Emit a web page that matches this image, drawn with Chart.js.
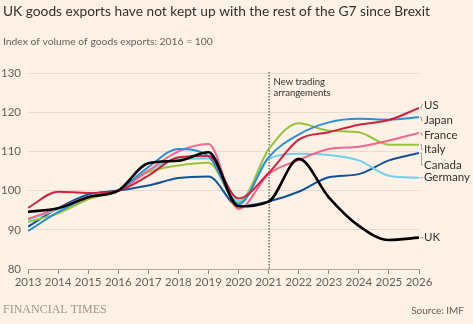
<!DOCTYPE html>
<html>
<head>
<meta charset="utf-8">
<script src="https://cdn.jsdelivr.net/npm/chart.js@4.4.1/dist/chart.umd.min.js"></script>
<style>
  html, body { margin: 0; padding: 0; background: #fff1e5; }
  #wrap { width: 473px; height: 324px; position: relative; }
</style>
</head>
<body>
<div id="wrap"><canvas id="chart"></canvas></div>
<script>
// Data (index, 2016 = 100)
const years = [2013, 2014, 2015, 2016, 2017, 2018, 2019, 2020, 2021, 2022, 2023, 2024, 2025, 2026];
const uk      = [94.6, 95.5, 98.3, 100, 107.0, 107.6, 109.8, 96.0, 97.2, 108.1, 98.3, 91.0, 87.4, 88.0];
const us      = [95.6, 99.7, 99.4, 100, 103.8, 108.5, 108.8, 98.0, 104.5, 113.0, 114.9, 116.8, 118.0, 121.1];
const japan   = [89.7, 94.5, 98.3, 100, 106.0, 110.6, 108.8, 96.5, 108.5, 114.3, 117.4, 118.3, 118.1, 118.7];
const france  = [92.8, 95.5, 98.4, 100, 105.1, 110.0, 111.9, 95.3, 104.2, 107.8, 110.6, 111.2, 112.8, 114.7];
const italy   = [92.0, 94.2, 97.8, 100, 104.7, 106.4, 107.1, 96.8, 110.5, 117.2, 115.3, 114.9, 111.7, 111.7];
const canada  = [90.8, 95.5, 99.0, 100, 101.3, 103.2, 103.6, 96.0, 97.2, 99.7, 103.4, 104.2, 107.7, 109.6];
const germany = [92.5, 95.3, 98.5, 100, 105.0, 108.1, 108.2, 97.3, 108.1, 109.4, 109.1, 107.7, 103.8, 103.3];
const yTicks = [80, 90, 100, 110, 120, 130];

const FONT = 'Lato';

const series = [
  { label: 'UK', data: uk, color: '#000000', width: 2.6, nudge: 0 },
  { label: 'US', data: us, color: '#d0213f', width: 2, nudge: -3 },
  { label: 'Japan', data: japan, color: '#2a8fd6', width: 2, nudge: 3 },
  { label: 'France', data: france, color: '#f2668f', width: 2, nudge: 2 },
  { label: 'Italy', data: italy, color: '#96c43c', width: 2, nudge: 5 },
  { label: 'Germany', data: germany, color: '#6fd2e8', width: 2, nudge: 0 },
  { label: 'Canada', data: canada, color: '#0f5499', width: 2, nudge: 12 }
];

function toPoints(values) {
  return values.map((v, i) => ({ x: years[i], y: v }));
}

// draw text squeezed/stretched to a given width
function fitText(ctx, text, x, y, size, width) {
  ctx.font = size + 'px ' + FONT;
  const w = ctx.measureText(text).width;
  ctx.font = (size * width / w).toFixed(2) + 'px ' + FONT;
  ctx.fillText(text, x, y);
}

// Title, footer, brexit marker and end labels
const decorations = {
  id: 'decorations',
  beforeDatasetsDraw(chart) {
    const ctx = chart.ctx;
    const x = chart.scales.x.getPixelForValue(2021);
    const area = chart.chartArea;
    ctx.save();
    ctx.strokeStyle = '#33302e';
    ctx.lineWidth = 1;
    ctx.setLineDash([1.5, 1.5]);
    ctx.beginPath();
    ctx.moveTo(x + 0.5, area.top - 1);
    ctx.lineTo(x + 0.5, area.bottom);
    ctx.stroke();
    ctx.restore();
  },
  afterDraw(chart) {
    const ctx = chart.ctx;
    const area = chart.chartArea;
    const xs = chart.scales.x;
    const ys = chart.scales.y;
    ctx.save();
    ctx.textBaseline = 'middle';

    ctx.fillStyle = '#33302e';
    fitText(ctx, 'UK goods exports have not kept up with the rest of the G7 since Brexit', 3, 12, 15, 427);
    ctx.fillStyle = '#66605c';
    fitText(ctx, 'Index of volume of goods exports: 2016 = 100', 3, 42, 11, 210);

    // annotation
    const bx = xs.getPixelForValue(2021);
    ctx.fillStyle = '#33302e';
    ctx.font = '9.5px ' + FONT;
    ctx.fillText('New trading', bx + 5, 82);
    ctx.fillText('arrangements', bx + 5, 93);

    // end labels with small leaders
    ctx.font = '11.5px ' + FONT;
    series.forEach(s => {
      const endY = ys.getPixelForValue(s.data[s.data.length - 1]);
      const labY = endY + s.nudge;
      ctx.strokeStyle = '#a8a09a';
      ctx.lineWidth = 1;
      ctx.beginPath();
      ctx.moveTo(area.right + 1, endY);
      ctx.lineTo(area.right + 2.5, endY);
      ctx.lineTo(area.right + 2.5, labY);
      ctx.lineTo(area.right + 4, labY);
      ctx.stroke();
      ctx.fillStyle = '#33302e';
      ctx.fillText(s.label, area.right + 5, labY);
    });

    // footer
    ctx.fillStyle = '#9e958d';
    ctx.font = '12px "Liberation Serif"';
    ctx.fillText('FINANCIAL TIMES', 3, 310);
    ctx.fillStyle = '#66605c';
    ctx.font = '10px ' + FONT;
    ctx.textAlign = 'right';
    ctx.fillText('Source: IMF', 464, 311);
    ctx.restore();
  }
};

const ctx = document.getElementById('chart').getContext('2d');
new Chart(ctx, {
  type: 'line',
  data: {
    datasets: series.map(s => ({
      label: s.label,
      data: toPoints(s.data),
      borderColor: s.color,
      borderWidth: s.width,
      pointRadius: 0,
      fill: false,
      cubicInterpolationMode: 'monotone'
    }))
  },
  options: {
    responsive: true,
    maintainAspectRatio: false,
    animation: false,
    layout: { padding: { top: 73, right: 54, bottom: 35, left: 0 } },
    plugins: { legend: { display: false }, tooltip: { enabled: false } },
    scales: {
      x: {
        type: 'linear',
        min: 2013,
        max: 2026,
        afterBuildTicks: scale => { scale.ticks = years.map(v => ({ value: v })); },
        afterFit: scale => { scale.height = 20; },
        ticks: {
          color: '#66605c',
          font: { family: FONT, size: 11.5 },
          padding: 1,
          maxRotation: 0,
          callback: v => String(v)
        },
        grid: { drawOnChartArea: false, color: '#8f8780', tickLength: 5 },
        border: { display: true, color: '#b3aaa2' }
      },
      y: {
        min: 80,
        max: 130,
        afterBuildTicks: scale => { scale.ticks = yTicks.map(v => ({ value: v })); },
        afterFit: scale => { scale.width = 28; },
        ticks: {
          color: '#66605c',
          font: { family: FONT, size: 11.5 },
          padding: 7
        },
        grid: { color: '#e9dccf', drawTicks: false },
        border: { display: false }
      }
    }
  },
  plugins: [decorations]
});
</script>
</body>
</html>
